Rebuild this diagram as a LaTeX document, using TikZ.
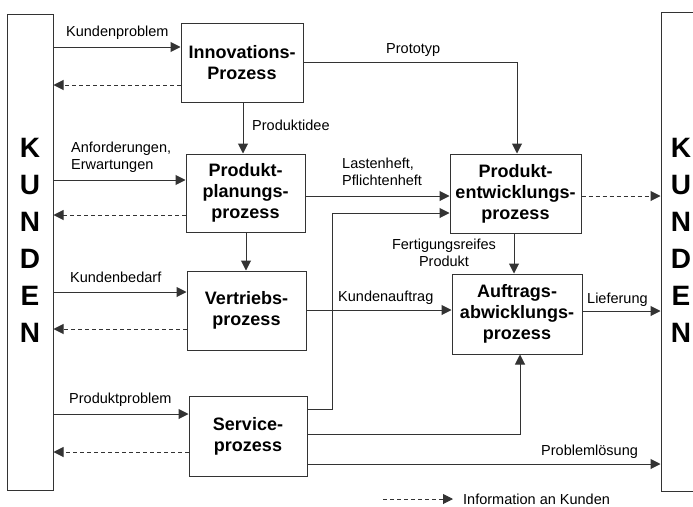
\documentclass[tikz,border=0pt]{standalone}
\usepackage{fontspec}
\setmainfont{Liberation Sans}
\usetikzlibrary{arrows.meta}
\definecolor{linecol}{gray}{0.2}
\tikzset{
  proc/.style={draw=linecol, line width=1pt, rectangle, inner sep=0pt, align=center,
    font=\fontsize{18}{21}\selectfont\bfseries},
  custbox/.style={draw=linecol, line width=1pt, rectangle, inner sep=0pt},
  lab/.style={inner sep=0pt, font=\fontsize{14.5}{17}\selectfont},
  letters/.style={inner sep=0pt, align=center, font=\fontsize{28}{37}\selectfont\bfseries},
  flow/.style={draw=linecol, line width=1pt, -{Triangle[length=10pt,width=10pt]}},
  info/.style={flow, dash pattern=on 4pt off 3pt},
  plain/.style={draw=linecol, line width=1pt}
}
\begin{document}
\begin{tikzpicture}[x=1pt, y=-1pt]
\useasboundingbox (0,0) rectangle (693,506);

% customer columns
\node[custbox, minimum width=46pt, minimum height=476pt] (kl) at (30,252) {};
\node[custbox, minimum width=60pt, minimum height=479pt] (kr) at (691,251.5) {};
\node[letters] (kltext) at (30,240) {K\\U\\N\\D\\E\\N};
\node[letters] (krtext) at (681,240) {K\\U\\N\\D\\E\\N};

% process boxes
\node[proc, minimum width=122pt, minimum height=79pt] (innov) at (242,62.5) {Innovations-\\Prozess};
\node[proc, minimum width=119pt, minimum height=78pt] (plan) at (245.5,193) {Produkt-\\planungs-\\prozess};
\node[proc, minimum width=119pt, minimum height=79pt] (vertr) at (246.5,310.5) {Vertriebs-\\prozess};
\node[proc, minimum width=118pt, minimum height=80pt] (serv) at (248,436) {Service-\\prozess};
\node[proc, minimum width=131pt, minimum height=79pt] (entw) at (515.5,193.5) {Produkt-\\entwicklungs-\\prozess};
\node[proc, minimum width=130pt, minimum height=80pt] (auftr) at (517,314) {Auftrags-\\abwicklungs-\\prozess};

% inputs from the customer
\draw[flow] (kl.east |- 0,47) -- (innov.west |- 0,47);
\draw[flow] (kl.east |- 0,180) -- (plan.west |- 0,180);
\draw[flow] (kl.east |- 0,292) -- (vertr.west |- 0,292);
\draw[flow] (kl.east |- 0,414) -- (serv.west |- 0,414);

% information back to the customer
\draw[info] (innov.west |- 0,85) -- (kl.east |- 0,85);
\draw[info] (plan.west |- 0,215) -- (kl.east |- 0,215);
\draw[info] (vertr.west |- 0,329) -- (kl.east |- 0,329);
\draw[info] (serv.west |- 0,452) -- (kl.east |- 0,452);
\draw[info] (entw.east |- 0,196) -- (kr.west |- 0,196);

% internal flows
\draw[flow] (243,0 |- innov.south) -- (243,0 |- plan.north);
\draw[flow] (246,0 |- plan.south) -- (246,0 |- vertr.north);
\draw[flow] (innov.east |- 0,62) -| (517,0 |- entw.north);
\draw[flow] (plan.east |- 0,196) -- (entw.west |- 0,196);
\draw[flow] (serv.east |- 0,409) -- (332,409) |- (entw.west |- 0,213);
\draw[flow] (514,0 |- entw.south) -- (514,0 |- auftr.north);
\draw[flow] (vertr.east |- 0,310) -- (auftr.west |- 0,310);
\draw[flow] (serv.east |- 0,434) -| (520,0 |- auftr.south);

% outputs to the customer
\draw[flow] (auftr.east |- 0,311) -- (kr.west |- 0,311);
\draw[flow] (serv.east |- 0,464) -- (kr.west |- 0,464);

% flow labels
\node[lab, anchor=west] (l1) at (66,33) {Kundenproblem};
\node[lab, anchor=west, align=left] (l2) at (71,157.5) {Anforderungen,\\Erwartungen};
\node[lab, anchor=west] (l3) at (252,125) {Produktidee};
\node[lab, anchor=west] (l4) at (70,277) {Kundenbedarf};
\node[lab, anchor=west] (l5) at (69,400) {Produktproblem};
\node[lab, anchor=west] (l6) at (386,50) {Prototyp};
\node[lab, anchor=west, align=left] (l7) at (342,171.5) {Lastenheft,\\Pflichtenheft};
\node[lab, align=center] (l8) at (444,253) {Fertigungsreifes\\Produkt};
\node[lab, anchor=west] (l9) at (338,298) {Kundenauftrag};
\node[lab, anchor=west] (l10) at (587,300) {Lieferung};
\node[lab, anchor=west] (l11) at (541,452) {Problemlösung};

% legend
\coordinate (legA) at (383,499);
\node[lab, anchor=west] (leg) at (463,499) {Information an Kunden};
\draw[info] (legA) -- ([xshift=-10pt]leg.west);
\end{tikzpicture}
\end{document}
